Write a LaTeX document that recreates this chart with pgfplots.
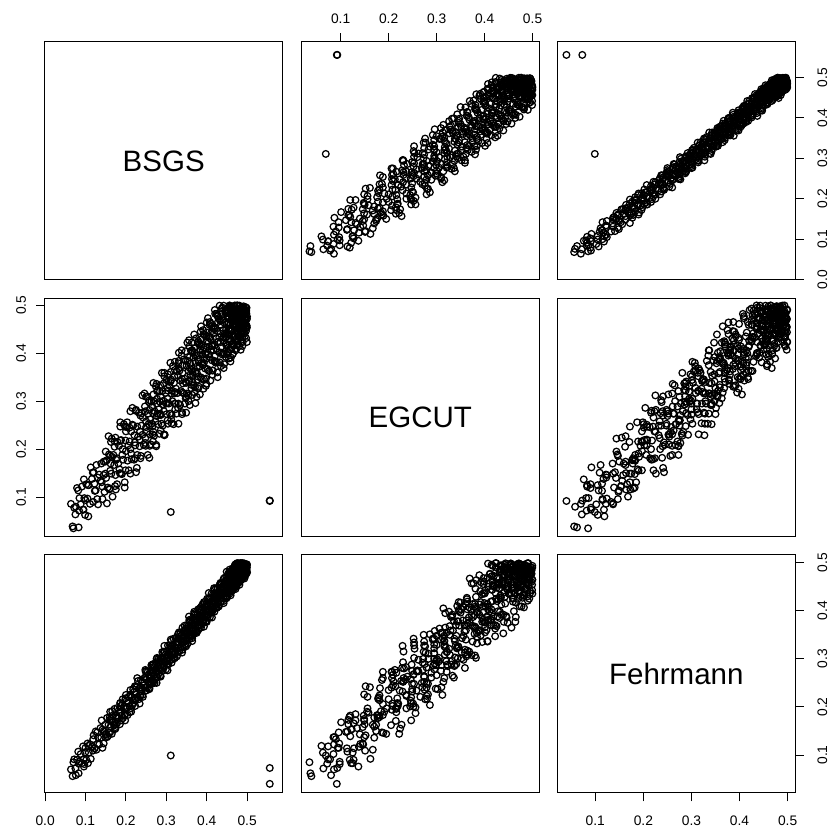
\documentclass[border=0pt]{standalone}
\usepackage{fontspec}
\setmainfont{Liberation Sans}
\usepackage{pgfplots}
\usepackage{pgfplotstable}
\pgfplotsset{compat=1.18}
\pgfplotstableread{
b e f
0.064 0.086 0.070
0.068 0.039 0.056
0.072 0.078 0.091
0.075 0.064 0.072
0.079 0.119 0.090
0.083 0.037 0.062
0.085 0.098 0.086
0.088 0.085 0.102
0.091 0.122 0.083
0.094 0.074 0.118
0.097 0.098 0.081
0.099 0.063 0.105
0.102 0.127 0.090
0.105 0.097 0.124
0.108 0.125 0.105
0.111 0.086 0.122
0.113 0.162 0.092
0.116 0.138 0.117
0.119 0.090 0.133
0.122 0.128 0.114
0.125 0.114 0.149
0.127 0.167 0.111
0.131 0.085 0.137
0.134 0.147 0.122
0.137 0.134 0.156
0.139 0.170 0.136
0.142 0.122 0.153
0.145 0.146 0.124
0.147 0.111 0.148
0.149 0.174 0.163
0.151 0.140 0.143
0.153 0.177 0.177
0.155 0.120 0.139
0.157 0.227 0.163
0.158 0.189 0.146
0.160 0.118 0.179
0.162 0.170 0.159
0.164 0.149 0.175
0.165 0.222 0.144
0.167 0.101 0.168
0.169 0.188 0.183
0.171 0.167 0.163
0.172 0.216 0.196
0.174 0.146 0.158
0.176 0.178 0.182
0.178 0.127 0.166
0.179 0.215 0.198
0.181 0.170 0.178
0.183 0.207 0.194
0.185 0.150 0.164
0.186 0.256 0.187
0.188 0.219 0.202
0.190 0.148 0.182
0.192 0.200 0.216
0.193 0.178 0.177
0.195 0.252 0.201
0.197 0.131 0.185
0.199 0.218 0.218
0.200 0.196 0.197
0.202 0.246 0.213
0.204 0.176 0.183
0.206 0.208 0.207
0.207 0.156 0.221
0.209 0.245 0.201
0.211 0.200 0.235
0.213 0.237 0.197
0.214 0.179 0.220
0.216 0.286 0.204
0.218 0.249 0.237
0.220 0.178 0.217
0.221 0.229 0.232
0.223 0.208 0.202
0.225 0.282 0.226
0.227 0.161 0.241
0.228 0.247 0.220
0.230 0.226 0.254
0.232 0.276 0.216
0.234 0.206 0.240
0.235 0.237 0.223
0.237 0.186 0.256
0.239 0.275 0.236
0.241 0.230 0.252
0.242 0.266 0.221
0.244 0.209 0.245
0.246 0.316 0.260
0.248 0.279 0.240
0.249 0.207 0.273
0.250 0.258 0.234
0.251 0.236 0.257
0.253 0.310 0.241
0.254 0.188 0.273
0.255 0.274 0.252
0.256 0.252 0.267
0.258 0.302 0.237
0.259 0.231 0.260
0.260 0.262 0.274
0.261 0.210 0.253
0.263 0.299 0.287
0.264 0.253 0.248
0.265 0.289 0.271
0.266 0.231 0.254
0.268 0.338 0.287
0.269 0.300 0.266
0.270 0.228 0.281
0.271 0.279 0.250
0.273 0.258 0.274
0.274 0.331 0.288
0.275 0.209 0.267
0.276 0.295 0.300
0.278 0.274 0.262
0.279 0.323 0.285
0.280 0.252 0.268
0.281 0.283 0.300
0.283 0.232 0.280
0.284 0.320 0.295
0.285 0.274 0.264
0.286 0.310 0.287
0.288 0.253 0.302
0.289 0.359 0.281
0.290 0.321 0.314
0.291 0.249 0.275
0.293 0.301 0.299
0.294 0.279 0.282
0.295 0.352 0.314
0.296 0.230 0.293
0.298 0.317 0.309
0.299 0.295 0.278
0.300 0.344 0.301
0.301 0.273 0.315
0.303 0.305 0.295
0.304 0.253 0.328
0.305 0.341 0.289
0.306 0.295 0.312
0.308 0.332 0.296
0.309 0.274 0.328
0.310 0.380 0.307
0.311 0.342 0.322
0.313 0.271 0.292
0.314 0.322 0.315
0.315 0.300 0.329
0.316 0.373 0.308
0.318 0.252 0.342
0.319 0.338 0.303
0.320 0.316 0.326
0.321 0.365 0.309
0.323 0.295 0.342
0.324 0.326 0.321
0.325 0.274 0.336
0.326 0.362 0.305
0.328 0.317 0.329
0.329 0.353 0.343
0.330 0.295 0.322
0.331 0.401 0.355
0.333 0.364 0.317
0.334 0.292 0.340
0.335 0.343 0.323
0.336 0.321 0.355
0.338 0.395 0.335
0.339 0.273 0.350
0.340 0.359 0.319
0.341 0.337 0.342
0.343 0.387 0.357
0.344 0.316 0.336
0.345 0.347 0.369
0.346 0.295 0.330
0.348 0.384 0.354
0.349 0.338 0.337
0.350 0.374 0.369
0.351 0.316 0.348
0.352 0.422 0.363
0.353 0.384 0.332
0.354 0.312 0.355
0.355 0.363 0.369
0.356 0.341 0.348
0.357 0.414 0.381
0.358 0.292 0.342
0.359 0.378 0.365
0.360 0.356 0.348
0.361 0.405 0.380
0.362 0.334 0.359
0.363 0.365 0.374
0.364 0.313 0.343
0.365 0.401 0.366
0.366 0.355 0.380
0.367 0.391 0.359
0.368 0.333 0.392
0.369 0.439 0.353
0.370 0.401 0.376
0.371 0.329 0.359
0.372 0.380 0.391
0.373 0.358 0.370
0.374 0.431 0.385
0.375 0.309 0.354
0.376 0.395 0.377
0.377 0.373 0.391
0.378 0.422 0.370
0.379 0.351 0.403
0.380 0.382 0.364
0.381 0.330 0.387
0.382 0.418 0.370
0.383 0.372 0.402
0.384 0.408 0.381
0.385 0.350 0.396
0.386 0.456 0.365
0.387 0.418 0.388
0.388 0.346 0.402
0.389 0.397 0.381
0.390 0.375 0.414
0.391 0.448 0.375
0.392 0.326 0.398
0.393 0.412 0.381
0.394 0.390 0.413
0.395 0.439 0.392
0.396 0.368 0.407
0.397 0.399 0.376
0.398 0.347 0.399
0.399 0.435 0.413
0.400 0.389 0.392
0.401 0.425 0.425
0.402 0.367 0.386
0.403 0.473 0.409
0.404 0.435 0.392
0.405 0.363 0.424
0.406 0.414 0.403
0.407 0.392 0.418
0.408 0.465 0.387
0.409 0.343 0.410
0.410 0.429 0.424
0.411 0.407 0.403
0.412 0.456 0.436
0.413 0.385 0.397
0.414 0.416 0.420
0.415 0.364 0.403
0.416 0.452 0.435
0.417 0.406 0.414
0.418 0.442 0.429
0.419 0.384 0.398
0.420 0.490 0.421
0.421 0.452 0.435
0.422 0.380 0.414
0.423 0.431 0.447
0.424 0.409 0.408
0.425 0.482 0.431
0.426 0.360 0.414
0.427 0.446 0.446
0.428 0.424 0.425
0.429 0.473 0.440
0.430 0.402 0.409
0.431 0.433 0.432
0.432 0.381 0.446
0.433 0.469 0.425
0.434 0.423 0.458
0.435 0.459 0.419
0.436 0.401 0.442
0.437 0.493 0.425
0.438 0.469 0.457
0.439 0.397 0.436
0.440 0.448 0.451
0.441 0.426 0.420
0.442 0.499 0.443
0.443 0.377 0.457
0.444 0.463 0.436
0.445 0.441 0.469
0.446 0.490 0.430
0.447 0.419 0.453
0.448 0.450 0.436
0.449 0.398 0.468
0.4500 0.486 0.447
0.4505 0.4395 0.4615
0.4510 0.475 0.430
0.4515 0.4165 0.4525
0.4520 0.478 0.466
0.4525 0.4835 0.4445
0.4530 0.411 0.477
0.4535 0.4615 0.4375
0.4540 0.439 0.460
0.4545 0.4885 0.4425
0.4550 0.389 0.474
0.4555 0.4745 0.4525
0.4560 0.452 0.467
0.4565 0.4995 0.4355
0.4570 0.429 0.458
0.4575 0.4595 0.4715
0.4580 0.407 0.450
0.4585 0.4945 0.4825
0.4590 0.448 0.443
0.4595 0.4835 0.4655
0.4600 0.425 0.448
0.4605 0.4695 0.4795
0.4610 0.492 0.458
0.4615 0.4195 0.4725
0.4620 0.470 0.441
0.4625 0.4475 0.4635
0.4630 0.480 0.477
0.4635 0.3975 0.4555
0.4640 0.483 0.488
0.4645 0.4605 0.4485
0.4650 0.491 0.471
0.4655 0.4375 0.4535
0.4660 0.468 0.485
0.4665 0.4155 0.4635
0.4670 0.497 0.478
0.4675 0.4565 0.4465
0.4680 0.492 0.469
0.4685 0.4335 0.4825
0.4690 0.461 0.461
0.4695 0.4995 0.4935
0.4700 0.428 0.454
0.4705 0.4785 0.4765
0.4710 0.456 0.459
0.4715 0.4715 0.4905
0.4720 0.406 0.469
0.4725 0.4915 0.4835
0.4730 0.469 0.452
0.4735 0.4825 0.4745
0.4740 0.446 0.488
0.4745 0.4765 0.4665
0.4750 0.424 0.499
0.4755 0.4885 0.4595
0.4760 0.465 0.482
0.4765 0.4995 0.4645
0.4770 0.442 0.496
0.4775 0.4525 0.4745
0.4780 0.491 0.489
0.4785 0.4365 0.4575
0.4790 0.487 0.480
0.4795 0.4645 0.4935
0.4800 0.463 0.472
0.4805 0.4145 0.4955
0.4810 0.499 0.465
0.4815 0.4775 0.4875
0.4820 0.474 0.470
0.4825 0.4545 0.4985
0.4830 0.485 0.480
0.4835 0.4325 0.4945
0.4840 0.480 0.463
0.4845 0.4735 0.4855
0.4850 0.491 0.499
0.4855 0.4505 0.4775
0.4860 0.444 0.490
0.4865 0.4825 0.4705
0.4870 0.445 0.493
0.4875 0.4955 0.4755
0.4880 0.473 0.493
0.4885 0.4545 0.4855
0.4890 0.423 0.499
0.4895 0.4915 0.4685
0.4900 0.486 0.491
0.4905 0.4655 0.4955
0.4910 0.463 0.483
0.4915 0.4935 0.4845
0.4920 0.441 0.476
0.4925 0.4715 0.4985
0.4930 0.482 0.481
0.4935 0.4825 0.4875
0.4940 0.459 0.491
0.4945 0.4355 0.4945
0.4950 0.474 0.474
0.4955 0.4535 0.4965
0.4960 0.496 0.490
0.4965 0.4815 0.4885
0.4970 0.446 0.479
0.4975 0.4315 0.4815
0.4980 0.483 0.496
0.4985 0.4945 0.4865
0.4990 0.457 0.482
0.4995 0.4715 0.4965
0.076 0.080 0.058
0.070 0.035 0.085
0.082 0.114 0.107
0.084 0.072 0.082
0.096 0.137 0.076
0.100 0.094 0.115
0.095 0.074 0.091
0.106 0.125 0.083
0.107 0.060 0.119
0.120 0.152 0.141
0.123 0.113 0.114
0.118 0.151 0.109
0.129 0.096 0.147
0.130 0.141 0.123
0.142 0.096 0.115
0.145 0.174 0.150
0.140 0.131 0.172
0.150 0.195 0.144
0.149 0.149 0.137
0.159 0.116 0.173
0.161 0.186 0.147
0.153 0.087 0.137
0.163 0.215 0.171
0.161 0.155 0.190
0.172 0.205 0.162
0.173 0.123 0.154
0.166 0.184 0.191
0.175 0.116 0.164
0.174 0.224 0.155
0.184 0.158 0.188
0.186 0.247 0.208
0.178 0.181 0.179
0.188 0.149 0.172
0.186 0.218 0.208
0.197 0.120 0.182
0.198 0.247 0.172
0.191 0.188 0.206
0.200 0.237 0.225
0.199 0.156 0.197
0.209 0.216 0.189
0.211 0.149 0.226
0.203 0.256 0.199
0.213 0.191 0.190
0.211 0.279 0.223
0.222 0.214 0.243
0.223 0.181 0.214
0.216 0.251 0.207
0.225 0.152 0.243
0.224 0.280 0.217
0.234 0.220 0.207
0.236 0.270 0.241
0.228 0.188 0.260
0.238 0.249 0.232
0.236 0.181 0.224
0.247 0.289 0.261
0.248 0.223 0.234
0.241 0.312 0.225
0.250 0.246 0.258
0.248 0.213 0.277
0.258 0.282 0.248
0.258 0.182 0.239
0.250 0.309 0.275
0.259 0.249 0.248
0.257 0.298 0.238
0.267 0.216 0.271
0.267 0.275 0.289
0.259 0.207 0.260
0.268 0.314 0.252
0.266 0.248 0.288
0.276 0.336 0.261
0.276 0.269 0.250
0.268 0.236 0.283
0.277 0.305 0.302
0.275 0.206 0.273
0.285 0.333 0.265
0.285 0.272 0.300
0.277 0.321 0.273
0.286 0.239 0.263
0.284 0.299 0.296
0.294 0.231 0.315
0.294 0.337 0.285
0.286 0.271 0.277
0.295 0.359 0.313
0.293 0.293 0.286
0.303 0.260 0.276
0.303 0.328 0.308
0.295 0.229 0.327
0.304 0.356 0.298
0.302 0.296 0.290
0.312 0.345 0.326
0.312 0.262 0.298
0.304 0.322 0.288
0.313 0.254 0.321
0.311 0.361 0.340
0.321 0.295 0.311
0.321 0.382 0.302
0.313 0.316 0.338
0.322 0.283 0.311
0.320 0.352 0.301
0.330 0.253 0.334
0.330 0.379 0.352
0.322 0.319 0.323
0.331 0.368 0.315
0.329 0.286 0.351
0.339 0.346 0.324
0.339 0.277 0.313
0.331 0.384 0.346
0.340 0.318 0.365
0.338 0.406 0.336
0.348 0.340 0.328
0.348 0.306 0.363
0.340 0.375 0.336
0.349 0.276 0.326
0.348 0.404 0.360
0.357 0.343 0.378
0.358 0.392 0.349
0.349 0.309 0.340
0.358 0.369 0.376
0.355 0.300 0.348
0.364 0.406 0.337
0.365 0.340 0.370
0.356 0.427 0.388
0.365 0.361 0.359
0.362 0.327 0.350
0.371 0.395 0.385
0.372 0.296 0.358
0.363 0.422 0.347
0.372 0.362 0.380
0.369 0.410 0.398
0.378 0.327 0.368
0.379 0.387 0.360
0.370 0.318 0.395
0.379 0.425 0.368
0.376 0.358 0.357
0.385 0.445 0.389
0.386 0.379 0.408
0.377 0.345 0.378
0.386 0.414 0.370
0.383 0.314 0.405
0.392 0.440 0.377
0.393 0.380 0.367
0.384 0.428 0.399
0.393 0.346 0.418
0.390 0.405 0.388
0.399 0.336 0.379
0.400 0.443 0.415
0.391 0.376 0.387
0.400 0.464 0.377
0.397 0.397 0.409
0.406 0.363 0.427
0.407 0.432 0.398
0.398 0.332 0.389
0.407 0.459 0.425
0.404 0.398 0.397
0.413 0.446 0.386
0.414 0.364 0.419
0.405 0.423 0.437
0.414 0.355 0.408
0.411 0.461 0.399
0.420 0.394 0.434
0.421 0.482 0.407
0.412 0.415 0.396
0.421 0.382 0.429
0.418 0.450 0.447
0.427 0.350 0.417
0.428 0.477 0.409
0.419 0.416 0.444
0.428 0.465 0.417
0.425 0.382 0.406
0.434 0.441 0.438
0.435 0.373 0.457
0.426 0.479 0.427
0.435 0.413 0.419
0.432 0.499 0.454
0.441 0.433 0.426
0.442 0.400 0.416
0.433 0.468 0.448
0.442 0.369 0.467
0.439 0.495 0.437
0.448 0.434 0.428
0.449 0.483 0.464
0.440 0.400 0.436
0.449 0.460 0.426
0.4473 0.3923 0.4593
0.4559 0.4979 0.4769
0.4555 0.4305 0.4465
0.4462 0.4828 0.4372
0.4538 0.4498 0.4718
0.4504 0.4154 0.4434
0.4591 0.4831 0.4321
0.4587 0.3827 0.4637
0.4493 0.4917 0.4813
0.4569 0.4469 0.4509
0.4536 0.4946 0.4416
0.4622 0.4112 0.4762
0.4618 0.4698 0.4478
0.4524 0.4004 0.4364
0.4601 0.4939 0.4681
0.4567 0.4387 0.4857
0.4653 0.4747 0.4553
0.4649 0.4579 0.4459
0.4556 0.4236 0.4806
0.4632 0.4912 0.4522
0.4598 0.3908 0.4408
0.4684 0.4836 0.4724
0.4681 0.4551 0.4901
0.4587 0.4973 0.4597
0.4663 0.4193 0.4503
0.4629 0.4779 0.4849
0.4716 0.4086 0.4566
0.4712 0.4858 0.4452
0.4618 0.4468 0.4768
0.4694 0.4666 0.4944
0.4661 0.4661 0.4641
0.4747 0.4317 0.4547
0.4743 0.4993 0.4893
0.4649 0.3989 0.4609
0.4726 0.4754 0.4496
0.4692 0.4632 0.4812
0.4778 0.4892 0.4988
0.4774 0.4274 0.4684
0.4681 0.4861 0.4591
0.4757 0.4167 0.4937
0.4723 0.4777 0.4653
0.4809 0.4549 0.4539
0.4806 0.4584 0.4856
0.4712 0.4742 0.4968
0.4788 0.4398 0.4728
0.4754 0.4926 0.4634
0.4841 0.4071 0.4981
0.4837 0.4673 0.4697
0.4743 0.4713 0.4583
0.4819 0.4811 0.4899
0.4786 0.4356 0.4924
0.4872 0.4942 0.4772
0.4868 0.4248 0.4678
0.4774 0.4696 0.4976
0.4851 0.4631 0.4741
0.4817 0.4503 0.4627
0.4903 0.4823 0.4943
0.4899 0.4479 0.4881
0.4806 0.4844 0.4816
0.4882 0.4152 0.4722
0.4848 0.4592 0.4932
0.4934 0.4794 0.4784
0.4931 0.4729 0.4671
0.4837 0.4437 0.4987
0.4913 0.4977 0.4837
0.4879 0.4329 0.4859
0.4966 0.4614 0.4766
0.4962 0.4712 0.4888
0.4868 0.4422 0.4828
0.4944 0.4904 0.4714
0.4911 0.4561 0.4969
0.4997 0.4763 0.4793
0.4993 0.4233 0.4903
0.4899 0.4511 0.4809
0.4976 0.4876 0.4844
0.4942 0.4648 0.4872
0.4972 0.4518 0.4758
0.4976 0.4896 0.4926
0.4931 0.4411 0.4749
0.4993 0.4533 0.4947
0.556 0.092 0.040
0.556 0.093 0.073
0.311 0.069 0.099
}\pairsdata
\pgfplotsset{
  pairpanel/.style={
    scale only axis, width=238pt, height=238pt,
    anchor=south west,
    axis line style={line width=1pt},
    every tick/.style={line width=1pt, black},
    tick align=outside,
    major tick length=8.5pt,
    xtick=\empty, ytick=\empty,
    tick label style={font=\fontsize{13.8}{16}\selectfont, inner sep=0pt},
    /pgf/number format/fixed,
    /pgf/number format/fixed zerofill,
    /pgf/number format/precision=1,
    /pgf/number format/assume math mode=true,
  },
  bx/.style={xmin=-0.001, xmax=0.588},
  by/.style={ymin=-0.001, ymax=0.588},
  ex/.style={xmin=0.018, xmax=0.514},
  ey/.style={ymin=0.018, ymax=0.514},
  fx/.style={xmin=0.021, xmax=0.516},
  fy/.style={ymin=0.021, ymax=0.516},
  pts/.style={only marks, mark=o, black, mark size=3.35pt, mark options={line width=1.25pt}},
  toptick/.style={xtick pos=right, xticklabel pos=right, xticklabel style={anchor=south, yshift=10pt}},
  bottomtick/.style={xtick pos=left, xticklabel pos=left, xticklabel style={anchor=north, yshift=-14.5pt}},
  lefttick/.style={ytick pos=left, yticklabel pos=left, yticklabel style={xshift=-10pt, rotate=90, anchor=south}},
  righttick/.style={ytick pos=right, yticklabel pos=right, yticklabel style={xshift=13.5pt, rotate=90, anchor=north}},
}
\begin{document}
\begin{tikzpicture}
\path[use as bounding box] (0,0) rectangle (831pt,832pt);
% row 1
\begin{axis}[pairpanel, at={(44.7pt,552pt)}, bx, by]
\node[font=\fontsize{29.5}{32}\selectfont] at (rel axis cs:0.5,0.5) {BSGS};
\end{axis}
\begin{axis}[pairpanel, at={(301.3pt,552pt)}, ex, by, toptick, xtick={0.1,0.2,0.3,0.4,0.5}]
\addplot[pts] table[x=e, y=b] {\pairsdata};
\end{axis}
\begin{axis}[pairpanel, at={(557.3pt,552pt)}, fx, by, righttick, ytick={0,0.1,0.2,0.3,0.4,0.5}]
\addplot[pts] table[x=f, y=b] {\pairsdata};
\end{axis}
% row 2
\begin{axis}[pairpanel, at={(44.7pt,295.5pt)}, bx, ey, lefttick, ytick={0.1,0.2,0.3,0.4,0.5}]
\addplot[pts] table[x=b, y=e] {\pairsdata};
\end{axis}
\begin{axis}[pairpanel, at={(301.3pt,295.5pt)}, ex, ey]
\node[font=\fontsize{29.5}{32}\selectfont] at (rel axis cs:0.5,0.5) {EGCUT};
\end{axis}
\begin{axis}[pairpanel, at={(557.3pt,295.5pt)}, fx, ey]
\addplot[pts] table[x=f, y=e] {\pairsdata};
\end{axis}
% row 3
\begin{axis}[pairpanel, at={(44.7pt,39pt)}, bx, fy, bottomtick, xtick={0,0.1,0.2,0.3,0.4,0.5}]
\addplot[pts] table[x=b, y=f] {\pairsdata};
\end{axis}
\begin{axis}[pairpanel, at={(301.3pt,39pt)}, ex, fy]
\addplot[pts] table[x=e, y=f] {\pairsdata};
\end{axis}
\begin{axis}[pairpanel, at={(557.3pt,39pt)}, fx, fy, bottomtick, righttick, xtick={0.1,0.2,0.3,0.4,0.5}, ytick={0.1,0.2,0.3,0.4,0.5}]
\node[font=\fontsize{29.5}{32}\selectfont] at (rel axis cs:0.5,0.5) {Fehrmann};
\end{axis}
\end{tikzpicture}
\end{document}
